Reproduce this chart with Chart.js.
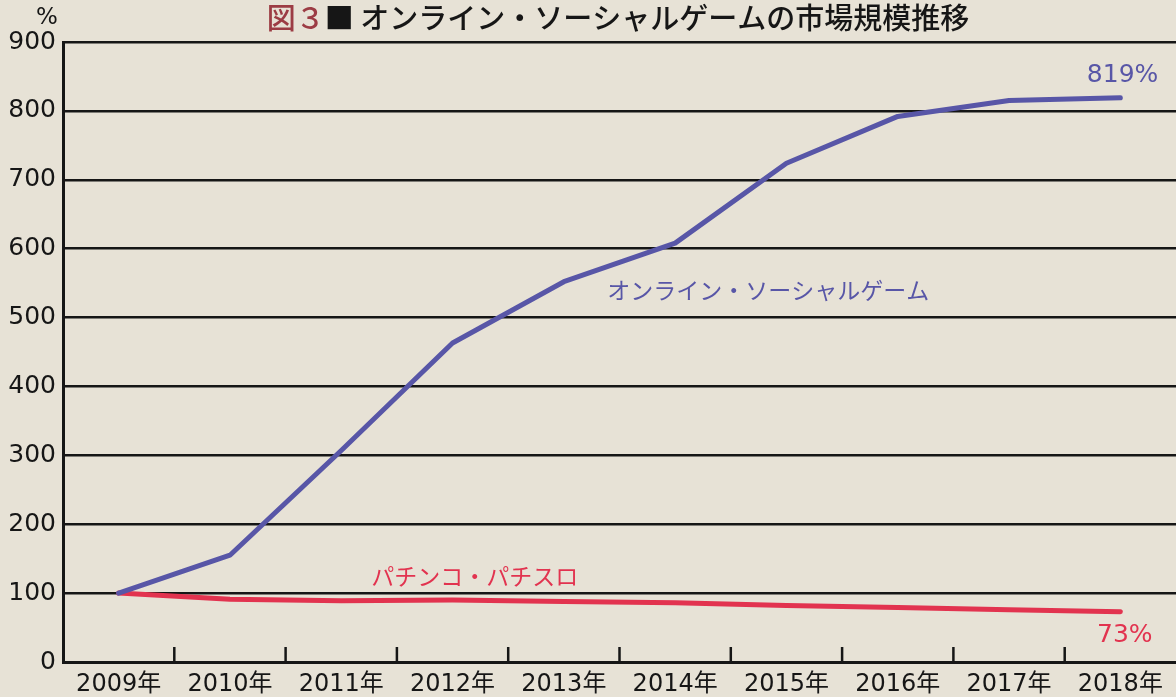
<!DOCTYPE html>
<html>
<head>
<meta charset="utf-8">
<script src="https://cdn.jsdelivr.net/npm/chart.js@4/dist/chart.umd.min.js"></script>
<style>
  html, body { margin: 0; padding: 0; background: #e7e2d6; }
  #wrap { width: 1176px; height: 697px; }
</style>
</head>
<body>
<div id="wrap"><canvas id="chart"></canvas></div>
<script>
const years = ["2009年", "2010年", "2011年", "2012年", "2013年", "2014年", "2015年", "2016年", "2017年", "2018年"];
const onlineGame = [100, 155, 307, 463, 552, 608, 724, 792, 815, 819];
const pachinko = [100, 91, 89, 90, 88, 86, 82, 79, 76, 73];
const yTicks = [0, 100, 200, 300, 400, 500, 600, 700, 800, 900];

const BLUE = "#5856a7";
const RED = "#e2334f";
const INK = "#161616";
const FONT = "'Noto Sans CJK JP', 'Noto Sans', sans-serif";
const NUMFONT = "'DejaVu Sans', 'Noto Sans CJK JP', sans-serif";

// text labels anchored in data units (x index, y value)
const notes = [
    { text: "オンライン・ソーシャルゲーム", x: 4.39, y: 540, color: BLUE, align: "left", font: FONT, size: 23 },
    { text: "819%", x: 9.02, y: 851, color: BLUE, align: "center", font: NUMFONT, size: 25 },
    { text: "パチンコ・パチスロ", x: 2.27, y: 125, color: RED, align: "left", font: FONT, size: 23 },
    { text: "73%", x: 9.04, y: 38, color: RED, align: "center", font: NUMFONT, size: 25 }
];

const decor = {
    id: "decor",
    afterDraw(chart) {
        const ctx = chart.ctx;
        const xs = chart.scales.x, ys = chart.scales.y;
        const area = chart.chartArea;

        // inward ticks at category boundaries
        ctx.save();
        ctx.strokeStyle = INK;
        ctx.lineWidth = 2.5;
        for (let i = 0; i < years.length - 1; i++) {
            const px = (xs.getPixelForTick(i) + xs.getPixelForTick(i + 1)) / 2;
            ctx.beginPath();
            ctx.moveTo(px, area.bottom);
            ctx.lineTo(px, area.bottom - 15);
            ctx.stroke();
        }
        ctx.restore();

        // series labels
        ctx.save();
        ctx.textBaseline = "middle";
        notes.forEach(n => {
            ctx.font = n.size + "px " + n.font;
            ctx.fillStyle = n.color;
            ctx.textAlign = n.align;
            ctx.fillText(n.text, xs.getPixelForValue(n.x), ys.getPixelForValue(n.y));
        });

        // unit
        ctx.font = "23px " + NUMFONT;
        ctx.fillStyle = INK;
        ctx.textAlign = "center";
        ctx.fillText("%", 47, 18);

        // title
        ctx.font = "500 29px " + FONT;
        ctx.textAlign = "left";
        const t1 = "図３", t2 = "■ オンライン・ソーシャルゲームの市場規模推移";
        const w = ctx.measureText(t1).width + ctx.measureText(t2).width;
        let x0 = 618 - w / 2;
        ctx.fillStyle = "#9c3c44";
        ctx.fillText(t1, x0, 18);
        ctx.fillStyle = INK;
        ctx.fillText(t2, x0 + ctx.measureText(t1).width, 18);
        ctx.restore();
    }
};

new Chart(document.getElementById("chart"), {
    type: "line",
    data: {
        labels: years,
        datasets: [{
            label: "オンライン・ソーシャルゲーム",
            data: onlineGame,
            borderColor: BLUE,
            borderWidth: 5,
            pointRadius: 0,
            tension: 0,
            borderCapStyle: "round",
            borderJoinStyle: "round"
        }, {
            label: "パチンコ・パチスロ",
            data: pachinko,
            borderColor: RED,
            borderWidth: 5,
            pointRadius: 0,
            tension: 0,
            borderCapStyle: "round",
            borderJoinStyle: "round"
        }]
    },
    options: {
        responsive: true,
        maintainAspectRatio: false,
        animation: false,
        layout: { padding: { top: 42, right: 0, left: 0, bottom: 0 } },
        plugins: { legend: { display: false }, tooltip: { enabled: false } },
        scales: {
            x: {
                offset: true,
                grid: { display: false, drawTicks: false },
                border: { display: true, color: INK, width: 3 },
                ticks: { color: INK, font: { family: NUMFONT, size: 24 }, padding: 8, maxRotation: 0 },
                afterFit(s) { s.height = 35; }
            },
            y: {
                min: 0,
                max: 900,
                afterBuildTicks(s) { s.ticks = yTicks.map(v => ({ value: v })); },
                grid: { color: INK, lineWidth: 2.5, drawTicks: false },
                border: { display: true, color: INK, width: 3 },
                ticks: { color: INK, font: { family: NUMFONT, size: 25 }, padding: 7 },
                afterFit(s) { s.width = 63; }
            }
        }
    },
    plugins: [decor]
});
</script>
</body>
</html>
